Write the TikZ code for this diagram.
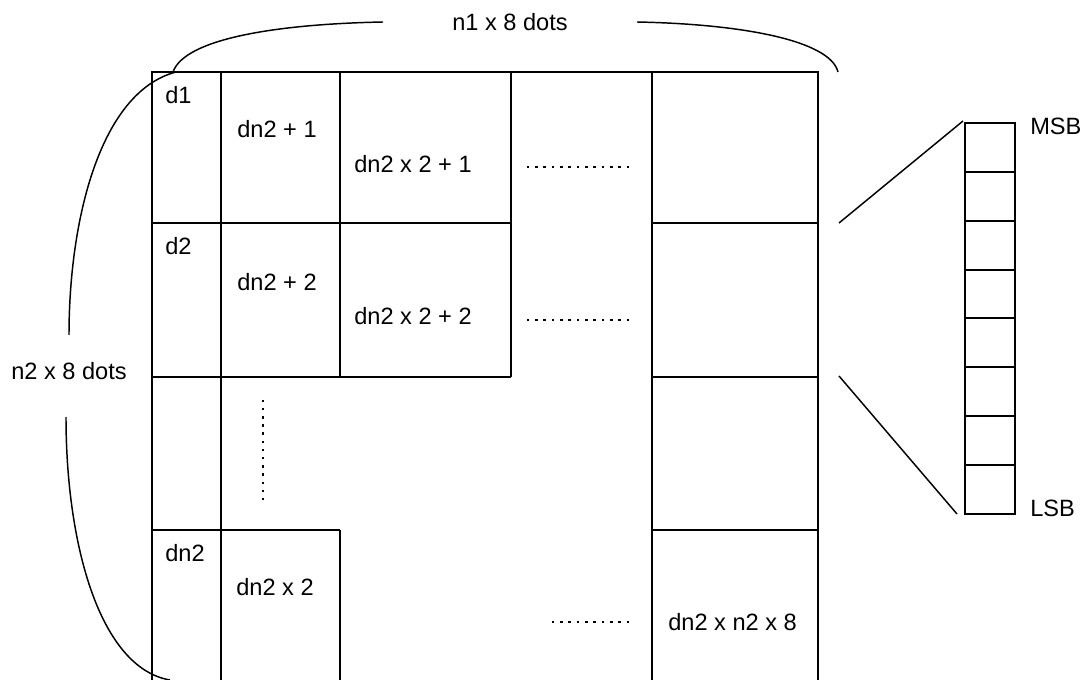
\documentclass[tikz,border=0pt]{standalone}
\usepackage{fontspec}
\setmainfont{Liberation Sans}
\begin{document}
\begin{tikzpicture}[x=0.75pt,y=-0.75pt,
  gridline/.style={line width=1.5pt},
  braceline/.style={line width=1.1pt},
  lbl/.style={inner sep=0pt,font=\fontsize{17.7}{20}\selectfont},
  dotmark/.style={fill=black}]
\useasboundingbox (0,0) rectangle (1091,680);
% grid
\draw[gridline] (152,681) -- (152,72) -- (818,72) -- (818,681);
\draw[gridline] (221,72) -- (221,681);
\draw[gridline] (340,72) -- (340,377);
\draw[gridline] (340,530) -- (340,681);
\draw[gridline] (511,72) -- (511,377);
\draw[gridline] (652,72) -- (652,681);
\draw[gridline] (152,223) -- (511,223);
\draw[gridline] (152,377) -- (511,377);
\draw[gridline] (152,530) -- (340,530);
\draw[gridline] (652,223) -- (818,223);
\draw[gridline] (652,377) -- (818,377);
\draw[gridline] (652,530) -- (818,530);
% labels in cells
\node[lbl,anchor=west] (d1) at (165,95) {d1};
\node[lbl,anchor=west] (d2) at (165,246) {d2};
\node[lbl,anchor=west] (dn2) at (165,553) {dn2};
\node[lbl,anchor=west] (c21) at (237,129) {dn2 + 1};
\node[lbl,anchor=west] (c22) at (237,282) {dn2 + 2};
\node[lbl,anchor=west] (c31) at (354,164) {dn2 x 2 + 1};
\node[lbl,anchor=west] (c32) at (354,316) {dn2 x 2 + 2};
\node[lbl,anchor=west] (c2n) at (236,587) {dn2 x 2};
\node[lbl,anchor=west] (clast) at (668,622) {dn2 x n2 x 8};
% dotted fillers
\foreach \i in {0,...,12}{
  \fill[dotmark] (528+\i*8.33-1.2,165.8) rectangle ++(2.4,2.4);
  \fill[dotmark] (528+\i*8.33-1.2,318.8) rectangle ++(2.4,2.4);
}
\foreach \i in {0,...,9}{
  \fill[dotmark] (553+\i*8.33-1.2,620.8) rectangle ++(2.4,2.4);
}
\foreach \i in {0,...,12}{
  \fill[dotmark] (261.8,401+\i*8.17-1.2) rectangle ++(2.4,2.4);
}
% top brace
\node[lbl] (toplbl) at (510,22) {n1 x 8 dots};
\coordinate (tl) at (173,72);
\coordinate (tr) at (838,72);
\coordinate (ta) at (383,22);
\coordinate (tb) at (637,22);
\draw[braceline] (tl) .. controls (185,38) and (280,24) .. (ta);
\draw[braceline] (tb) .. controls (740,24) and (830,40) .. (tr);
% left brace
\node[lbl] (leftlbl) at (69,371) {n2 x 8 dots};
\coordinate (lt) at (176,72);
\coordinate (la) at (69,335);
\coordinate (lb) at (66,417);
\coordinate (lbot) at (170,680);
\draw[braceline] (lt) .. controls (100,92) and (69,220) .. (la);
\draw[braceline] (lb) .. controls (66,545) and (100,668) .. (lbot);
% bit column
\draw[gridline] (965,123) rectangle (1015,514);
\foreach \k in {1,...,7}{
  \draw[gridline] (965,123+\k*48.875) -- (1015,123+\k*48.875);
}
\node[lbl,anchor=west] (msb) at (1030,126) {MSB};
\node[lbl,anchor=west] (lsb) at (1030,508) {LSB};
\coordinate (g1) at (839,223);
\coordinate (g2) at (839,376);
\coordinate (b1) at (963,121);
\coordinate (b2) at (957,514);
\draw[braceline] (g1) -- (b1);
\draw[braceline] (g2) -- (b2);
\end{tikzpicture}
\end{document}
